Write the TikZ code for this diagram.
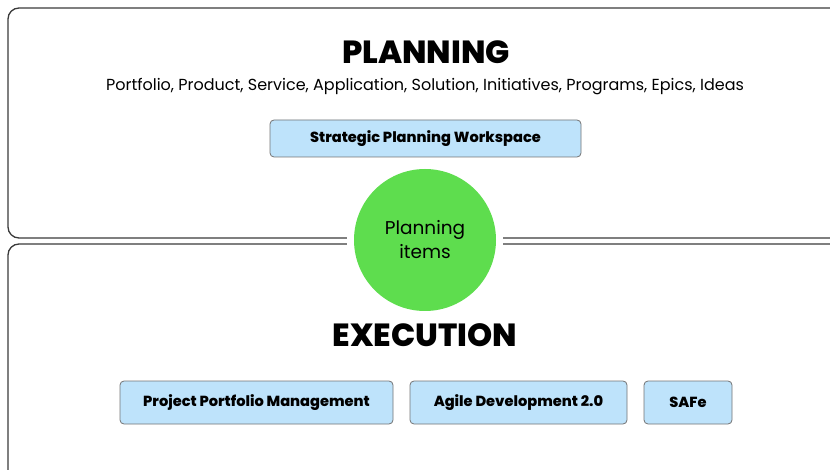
\documentclass[tikz,border=0pt]{standalone}
\usepackage{fontspec}
\setmainfont{Poppins}[BoldFont={Poppins Bold}]
\newfontfamily\heavyfont{Poppins ExtraBold}
\definecolor{boxblue}{HTML}{BEE3FB}
\definecolor{itemgreen}{HTML}{5EDD4E}
\definecolor{edgegray}{HTML}{3A3A3A}
\begin{document}
\begin{tikzpicture}[x=1pt,y=-1pt,
  panel/.style={draw=edgegray, line width=1.3pt, rounded corners=11pt},
  tool/.style={draw=black!55, line width=0.8pt, fill=boxblue, rounded corners=4pt,
    font=\heavyfont\fontsize{14.6}{16}\selectfont, inner sep=0pt},
  heading/.style={font=\heavyfont\fontsize{32}{32}\selectfont, inner sep=0pt},
  ]
\useasboundingbox (0,0) rectangle (830,470);
\clip (0,0) rectangle (830,470);
\draw[panel] (8,8) rectangle (850,238);
\draw[panel] (8,244) rectangle (850,495);
\fill[white] (425,241) circle (78);
\node[circle, fill=itemgreen, minimum size=142pt, inner sep=0pt, align=center,
  font=\fontsize{18.5}{24}\selectfont] (items) at (425,240) {Planning\\items};
\node[heading] (planning) at (426,52) {PLANNING};
\node[font=\fontsize{16}{18}\selectfont, inner sep=0pt] (kinds) at (425,87)
  {Portfolio, Product, Service, Application, Solution, Initiatives, Programs, Epics, Ideas};
\node[tool, minimum width=311pt, minimum height=37pt] (spw) at (425.5,138.5) {Strategic Planning Workspace};
\node[heading] (execution) at (425,335) {EXECUTION};
\node[tool, minimum width=273pt, minimum height=43pt] (ppm) at (256.5,402.5) {Project Portfolio Management};
\node[tool, minimum width=217pt, minimum height=43pt] (agile) at (518.5,402.5) {Agile Development 2.0};
\node[tool, minimum width=88pt, minimum height=43pt] (safe) at (688,402.5) {SAFe};
\end{tikzpicture}
\end{document}
